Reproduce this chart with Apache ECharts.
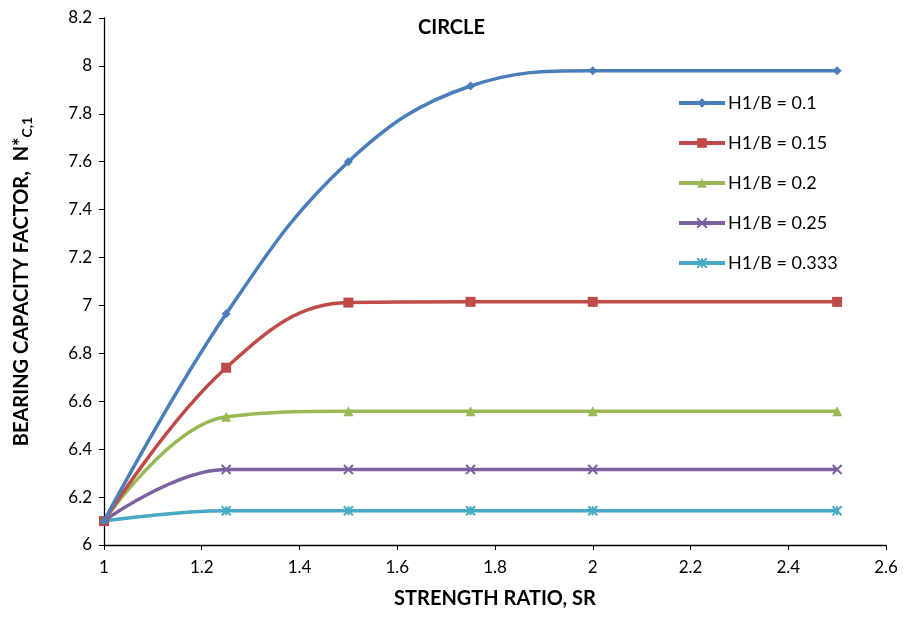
<!DOCTYPE html>
<html><head><meta charset="utf-8">
<script src="https://cdn.jsdelivr.net/npm/echarts@6/dist/echarts.min.js"></script>
<style>html,body{margin:0;padding:0;background:#fff}#c{width:913px;height:618px}</style>
</head><body><div id="c"></div>
<script>
const xValues = [1, 1.25, 1.5, 1.75, 2, 2.5];
const seriesNames = ['H1/B = 0.1', 'H1/B = 0.15', 'H1/B = 0.2', 'H1/B = 0.25', 'H1/B = 0.333'];
const s01 = [6.1, 6.965, 7.6, 7.916, 7.98, 7.98];
const s015 = [6.1, 6.74, 7.012, 7.015, 7.015, 7.015];
const s02 = [6.1, 6.535, 6.558, 6.558, 6.558, 6.558];
const s025 = [6.1, 6.315, 6.315, 6.315, 6.315, 6.315];
const s0333 = [6.1, 6.143, 6.143, 6.143, 6.143, 6.143];
const allValues = [s01, s015, s02, s025, s0333];
const colors = ['#4a7ebb', '#be4b48', '#98b954', '#7d60a0', '#46aac5'];
const symbols = ['diamond', 'rect', 'triangle',
  'path://M0,0L10,10M10,0L0,10',
  'path://M0,0L10,10M10,0L0,10M5,0L5,10'];
const symSizes = [9, 10, 10, 9, 9];

const font = 'Lato, "Open Sans", sans-serif';
const chart = echarts.init(document.getElementById('c'));
chart.setOption({
  animation: false,
  backgroundColor: '#fff',
  title: { text: 'CIRCLE', left: 413, top: 13, textStyle: { fontFamily: font, fontWeight: 'bold', fontSize: 20, color: '#000' } },
  grid: { left: 104, right: 27, top: 18, bottom: 73 },
  legend: {
    orient: 'vertical', left: 672, top: 89, itemWidth: 46, itemHeight: 12, itemGap: 22,
    textStyle: { fontFamily: font, fontSize: 18, color: '#000', padding: [0, 0, 0, -2] },
    lineStyle: { width: 4 },
    data: seriesNames
  },
  xAxis: {
    type: 'value', min: 1, max: 2.6, interval: 0.2,
    name: 'STRENGTH RATIO, SR', nameLocation: 'middle', nameGap: 44,
    nameTextStyle: { fontFamily: font, fontWeight: 'bold', fontSize: 20, color: '#000' },
    axisLine: { lineStyle: { color: '#000', width: 1.3 } },
    axisTick: { show: true, length: 5, lineStyle: { color: '#000' } },
    axisLabel: { fontFamily: font, fontSize: 17, color: '#000', margin: 14, formatter: v => String(Math.round(v * 10) / 10) },
    splitLine: { show: false }
  },
  yAxis: {
    type: 'value', min: 6, max: 8.2, interval: 0.2,
    name: '{a|BEARING CAPACITY FACTOR,  N*}{s|C,1}', nameLocation: 'middle', nameGap: 70,
    nameTextStyle: { rich: {
      a: { fontFamily: font, fontWeight: 'bold', fontSize: 20, color: '#000' },
      s: { fontFamily: font, fontWeight: 'bold', fontSize: 14, color: '#000', padding: [10, 0, 0, 0] }
    } },
    axisLine: { show: true, lineStyle: { color: '#000', width: 1.3 } },
    axisTick: { show: true, length: 5, lineStyle: { color: '#000' } },
    axisLabel: { fontFamily: font, fontSize: 17, color: '#000', margin: 12, formatter: v => String(Math.round(v * 10) / 10) },
    splitLine: { show: false }
  },
  series: allValues.map((vals, i) => ({
    name: seriesNames[i], type: 'line', smooth: 0.4,
    data: xValues.map((x, j) => [x, vals[j]]),
    symbol: symbols[i], symbolSize: symSizes[i], showSymbol: true,
    lineStyle: { color: colors[i], width: 3.5 },
    itemStyle: { color: colors[i], borderColor: colors[i], borderWidth: i >= 3 ? 2 : 0 },
    z: 10 - i
  }))
});
</script></body></html>
